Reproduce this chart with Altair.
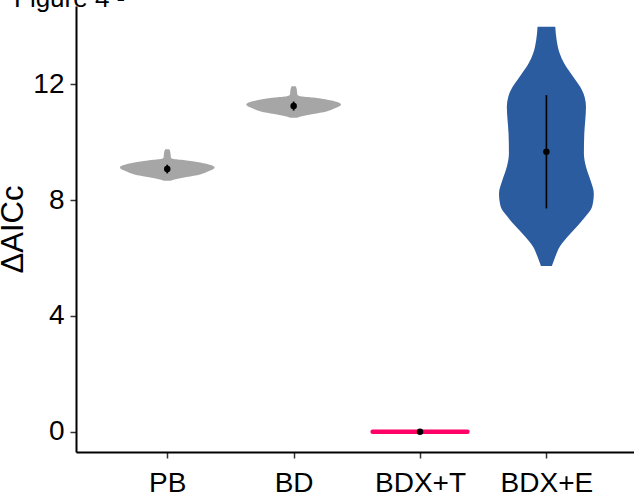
import altair as alt
import pandas as pd

# ---- data ----
categories = ["PB", "BD", "BDX+T", "BDX+E"]
positions = [1, 2, 3, 4]
colors = ["#A6A6A6", "#A6A6A6", "#FF0066", "#2B5CA0"]

# violin outlines: value (ΔAICc) and relative half-width (0..1)
pb_v = [9.758, 9.666, 9.459, 9.413, 9.367, 9.298, 9.206, 9.126, 9.068, 8.999, 8.884, 8.792, 8.723, 8.665]
pb_d = [0.042, 0.064, 0.078, 0.141, 0.41, 0.693, 0.919, 1.0, 0.975, 0.883, 0.693, 0.41, 0.198, 0.071]
bd_v = [11.933, 11.841, 11.634, 11.588, 11.542, 11.473, 11.381, 11.301, 11.243, 11.174, 11.059, 10.967, 10.898, 10.840]
bd_d = [0.042, 0.064, 0.078, 0.141, 0.41, 0.693, 0.919, 1.0, 0.975, 0.883, 0.693, 0.41, 0.198, 0.071]
bdxe_v = [13.98, 13.52, 13.06, 12.72, 12.25, 11.91, 11.56, 11.22, 10.76, 10.30, 9.61, 9.15,
          8.69, 8.23, 7.77, 7.42, 7.08, 6.73, 6.39, 6.04, 5.72]
bdxe_d = [0.187, 0.216, 0.281, 0.374, 0.568, 0.712, 0.806, 0.835, 0.820, 0.799, 0.791, 0.835,
          0.928, 1.0, 0.964, 0.820, 0.640, 0.446, 0.281, 0.187, 0.115]
bdxt_value = [0.0]  # degenerate violin (all zero)

# summary points and ranges
means = [9.07, 11.245, 0.0, 9.67]
lows = [8.92, 11.09, 0.0, 7.71]
highs = [9.22, 11.40, 0.0, 11.62]
range_widths = [1.8, 1.8, 1.0, 1.6]

half_width = 0.375

# ---- tables ----
rows = []
for cat, pos, vs, ds in [("PB", 1, pb_v, pb_d), ("BD", 2, bd_v, bd_d), ("BDX+E", 4, bdxe_v, bdxe_d)]:
    for v, d in zip(vs, ds):
        rows.append({"group": cat, "pos": pos, "v": v, "d": d})
violins = pd.DataFrame(rows)

flat = pd.DataFrame({"group": ["BDX+T"], "pos": [3], "v": bdxt_value})
summary = pd.DataFrame({"group": categories, "pos": positions, "mean": means,
                        "lo": lows, "hi": highs, "w": range_widths})

xscale = alt.Scale(domain=[0.278, 4.693], nice=False, zero=False)
yscale = alt.Scale(domain=[-0.7, 14.7], nice=False, zero=False)
cscale = alt.Scale(domain=categories, range=colors)

label_expr = "[" + ",".join(["''"] + [f"'{c}'" for c in categories]) + "][datum.value]"

xaxis = alt.Axis(values=positions, labelExpr=label_expr, title=None, grid=False,
                 tickSize=6, tickWidth=1.5, tickColor="#333333", domainColor="black",
                 domainWidth=2, labelFontSize=28, labelPadding=11, labelColor="black",
                 labelFont="Liberation Sans")
yaxis = alt.Axis(values=[0, 4, 8, 12], title="ΔAICc", grid=False, tickSize=6, tickWidth=1.5,
                 tickColor="#333333", domainColor="black", domainWidth=2, labelFontSize=28,
                 labelPadding=6, labelColor="black", labelFont="Liberation Sans",
                 titleFontSize=31, titleFontWeight="normal", titleFont="Liberation Sans",
                 titleColor="black", titlePadding=3)

area = alt.Chart(violins).transform_calculate(
    xl=f"datum.pos - {half_width} * datum.d",
    xr=f"datum.pos + {half_width} * datum.d",
).mark_area(orient="horizontal", interpolate="monotone").encode(
    y=alt.Y("v:Q", scale=yscale, axis=yaxis),
    x=alt.X("xl:Q", scale=xscale, axis=xaxis),
    x2="xr:Q",
    color=alt.Color("group:N", scale=cscale, legend=None),
    detail="group:N",
)

flat_line = alt.Chart(flat).transform_calculate(
    xl=f"datum.pos - {half_width}",
    xr=f"datum.pos + {half_width}",
).mark_rule(strokeWidth=4.5, strokeCap="round").encode(
    x=alt.X("xl:Q", scale=xscale),
    x2="xr:Q",
    y=alt.Y("v:Q", scale=yscale),
    color=alt.Color("group:N", scale=cscale, legend=None),
)

ranges = alt.Chart(summary).transform_filter("datum.hi > datum.lo").mark_rule(color="black").encode(
    x=alt.X("pos:Q", scale=xscale),
    y=alt.Y("lo:Q", scale=yscale),
    y2="hi:Q",
    strokeWidth=alt.StrokeWidth("w:Q", scale=None),
)

points = alt.Chart(summary).mark_point(filled=True, color="black", opacity=1, size=42).encode(
    x=alt.X("pos:Q", scale=xscale),
    y=alt.Y("mean:Q", scale=yscale),
)

title_text = alt.Chart(pd.DataFrame({"t": ["Figure 4 -"]})).mark_text(
    align="left", baseline="alphabetic", fontSize=26, font="Liberation Sans", color="black"
).encode(x=alt.value(-62), y=alt.value(1), text="t:N")

chart = alt.layer(area, flat_line, ranges, points, title_text).properties(
    width=558, height=446,
    padding={"left": 76, "top": 6, "right": 0, "bottom": 45},
    autosize=alt.AutoSizeParams(type="none"),
    background="white",
).configure_view(stroke=None, strokeWidth=0)

chart.save("out.html", embed_options={"renderer": "svg", "actions": False})
